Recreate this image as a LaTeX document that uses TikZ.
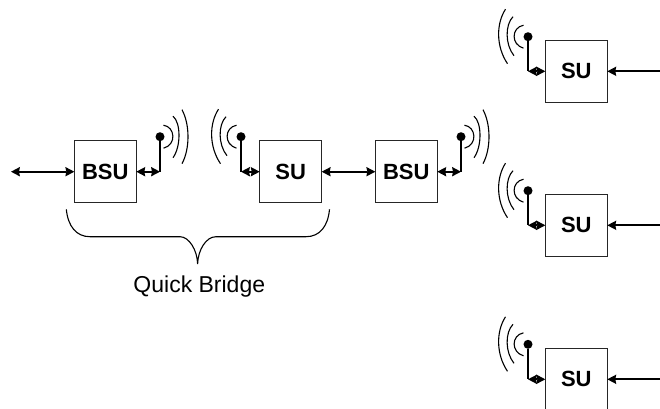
\documentclass[tikz,border=0pt]{standalone}
\usepackage{fontspec}
\setmainfont{Liberation Sans}
\usetikzlibrary{arrows.meta}
\tikzset{
  headtip/.tip={Stealth[length=9pt,width=9.5pt,inset=1pt,line width=0pt]},
  unit/.style={draw=black!85,line width=1pt,minimum size=62pt,inner sep=0pt,outer sep=0pt,font=\fontsize{22}{24}\selectfont\bfseries},
  link/.style={line width=1.9pt,headtip-headtip},
  inlink/.style={line width=1.9pt,-headtip},
  mast/.style={line width=1.6pt},
  dot/.style={circle,fill=black,minimum size=9pt,inner sep=0pt,outer sep=0pt},
  wave/.style={line width=1.1pt},
  pics/waveright/.style={code={
    \draw[wave] (3.5,-11.5) .. controls (15,-10) and (17,8) .. (3.5,11.5);
    \draw[wave] (13,-20.5) .. controls (21,-14) and (21,10) .. (13,21);
    \draw[wave] (22,-27) .. controls (30,-12) and (30,12) .. (22,27);
  }},
  pics/waveleft/.style={code={
    \draw[wave] (-4.5,-11.5) .. controls (-17,-9) and (-17,8) .. (-4.5,11.5);
    \draw[wave] (-15,-20) .. controls (-23,-12) and (-23,8) .. (-14,19);
    \draw[wave] (-22.5,-27.5) .. controls (-32,-13) and (-32,10) .. (-20.5,27);
  }},
}
\begin{document}
\begin{tikzpicture}[x=1pt,y=-1pt]
\useasboundingbox (0,0) rectangle (660,408);
\clip (0,0) rectangle (660,408);
% boxes
\node[unit] (b1) at (105.3,171.7) {BSU};
\node[unit] (s1) at (290.7,171.7) {SU};
\node[unit] (b2) at (406.3,171.7) {BSU};
\node[unit] (s2) at (576.3,71.3) {SU};
\node[unit] (s3) at (576.3,225.3) {SU};
\node[unit] (s4) at (576.3,379.3) {SU};
% dots and elbows
\node[dot] (d1) at (160,136.7) {};
\node[dot] (d2) at (241,136.7) {};
\node[dot] (d3) at (461,136.7) {};
\node[dot] (d4) at (528,36.7) {};
\node[dot] (d5) at (528,190.7) {};
\node[dot] (d6) at (528,344.3) {};
\coordinate (e1) at (d1 |- b1);
\coordinate (e2) at (d2 |- s1);
\coordinate (e3) at (d3 |- b2);
\coordinate (e4) at (d4 |- s2);
\coordinate (e5) at (d5 |- s3);
\coordinate (e6) at (d6 |- s4);
\coordinate (w) at (11,171.7);
\coordinate (r2) at (660,71.3);
\coordinate (r3) at (660,225.3);
\coordinate (r4) at (660,379.3);
% masts
\foreach \d/\e in {d1/e1,d2/e2,d3/e3,d4/e4,d5/e5,d6/e6} \draw[mast] (\d) -- (\e);
% links
\draw[link] (w) -- (b1.west);
\draw[link] (b1.east) -- (e1);
\draw[link] (e2) -- (s1.west);
\draw[link] (s1.east) -- (b2.west);
\draw[link] (b2.east) -- (e3);
\draw[link] (e4) -- (s2.west);
\draw[link] (e5) -- (s3.west);
\draw[link] (e6) -- (s4.west);
\draw[inlink] (r2) -- (s2.east);
\draw[inlink] (r3) -- (s3.east);
\draw[inlink] (r4) -- (s4.east);
% waves
\path (d1) pic {waveright};
\path (d3) pic {waveright};
\path (d2) pic {waveleft};
\path (d4) pic {waveleft};
\path (d5) pic {waveleft};
\path (d6) pic {waveleft};
% brace
\draw[wave] (66.3,209.3) .. controls (68,226) and (76,236.7) .. (90,236.7) -- (180,236.7)
  .. controls (189,236.7) and (197.3,250) .. (197.6,264)
  .. controls (198,250) and (206,236.7) .. (216,236.7) -- (306,236.7)
  .. controls (320,236.7) and (328,226) .. (329.5,209.3);
\node[font=\fontsize{23}{25}\selectfont,inner sep=0pt] (lbl) at (199.3,287) {Quick Bridge};
\end{tikzpicture}
\end{document}
